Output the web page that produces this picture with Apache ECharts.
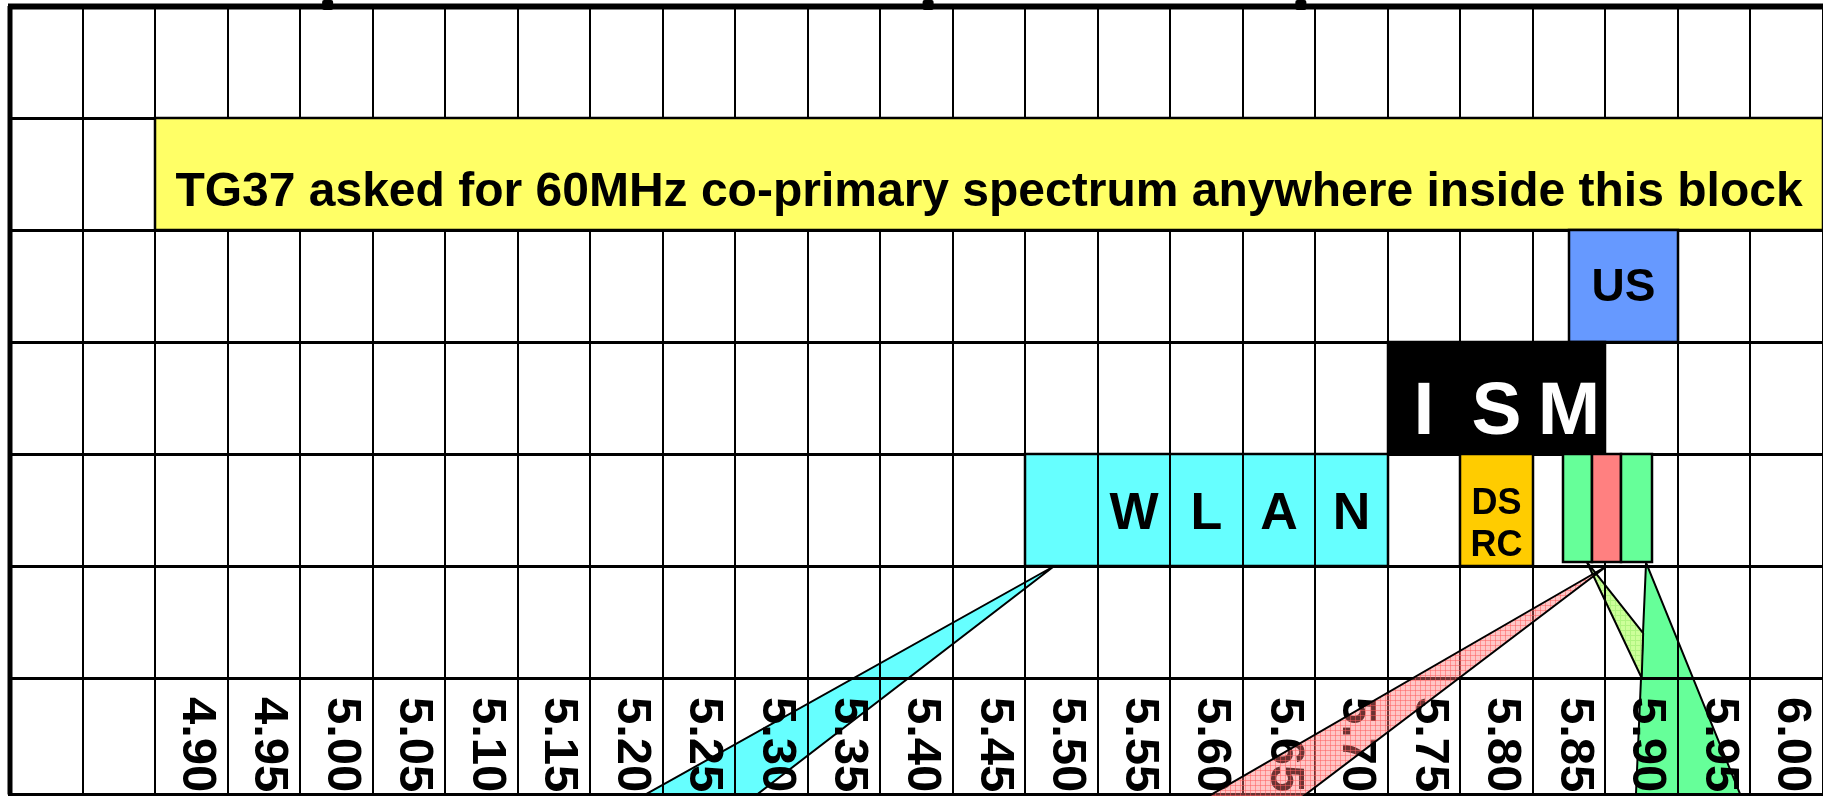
<!DOCTYPE html>
<html>
<head>
<meta charset="utf-8">
<title>5.9 GHz band plan</title>
<script src="https://cdn.jsdelivr.net/npm/echarts@6/dist/echarts.min.js"></script>
<style>
  html, body { margin: 0; padding: 0; background: #fff; }
  #chart { width: 1823px; height: 796px; }
</style>
</head>
<body>
<div id="chart"></div>
<script>
// columns: centre frequency in MHz, one column = 50 MHz
const colCentres = [4800, 4850, 4900, 4950, 5000, 5050, 5100, 5150, 5200, 5250, 5300, 5350,
  5400, 5450, 5500, 5550, 5600, 5650, 5700, 5750, 5800, 5850, 5900, 5950, 6000];
const tickLabels = ['', '', '4.90', '4.95', '5.00', '5.05', '5.10', '5.15', '5.20', '5.25', '5.30', '5.35',
  '5.40', '5.45', '5.50', '5.55', '5.60', '5.65', '5.70', '5.75', '5.80', '5.85', '5.90', '5.95', '6.00'];
const rowEdges = [0, 1, 2, 3, 4, 5, 6, 7.04];
const labelRow = 6;

// bands (MHz, row index counted from the top)
const bandNames = ['TG37 block', 'US', 'ISM', 'WLAN', 'DSRC', 'ITS a', 'ITS b', 'ITS c'];
const bandFrom = [4875, 5850, 5725, 5475, 5775, 5846, 5866, 5886];
const bandTo = [6025, 5925, 5875, 5725, 5825, 5866, 5886, 5907];
const bandRow = [1, 2, 3, 4, 4, 4, 4, 4];
const bandLabels = [
  'TG37 asked for 60MHz co-primary spectrum anywhere inside this block',
  'US',
  ['I', 'S', 'M'],
  ['', 'W', 'L', 'A', 'N'],
  'DS\nRC',
  '', '', ''
];

// zoom wedges: [apex, far-left, far-right] as MHz / row
const wedgeFreq = [
  [5495, 5191, 5274],
  [5903, 5895.5, 5973],
  [5862, 5901, 5900],
  [5876, 5582, 5652]
];
const wedgeRow = [
  [5, 7.2, 7.2],
  [4.97, 7.2, 7.2],
  [4.96, 5.6, 6],
  [5, 7.2, 7.2]
];

// stray marks above the top rule (MHz)
const topMarks = [4994, 5408, 5665];

const COL_W = 50;
const X_MIN = colCentres[0] - COL_W / 2;
const X_MAX = colCentres[colCentres.length - 1] + COL_W / 2;
const Y_MAX = rowEdges[rowEdges.length - 1];
const FONT = "'Liberation Sans', Arial, sans-serif";

// ---- styles ----
const bandStyle = [
  { fill: '#FFFF66', color: '#000', size: 48, dy: 19 },
  { fill: '#6699FF', color: '#000', size: 46, dy: 2 },
  { fill: '#000000', color: '#fff', size: 75, dy: 15 },
  { fill: '#66FFFF', color: '#000', size: 52, dy: 5 },
  { fill: '#FFCC00', color: '#000', size: 36, dy: 15, lh: 42 },
  { fill: '#66FF99', cut: 4 },
  { fill: '#FF8080', cut: 4 },
  { fill: '#66FF99', cut: 4 }
];

function hatch(base, line, step) {
  const c = document.createElement('canvas');
  c.width = step; c.height = step;
  const g = c.getContext('2d');
  g.fillStyle = base; g.fillRect(0, 0, step, step);
  g.fillStyle = line; g.fillRect(0, 0, step, 1); g.fillRect(0, 0, 1, step);
  return { image: c, repeat: 'repeat' };
}
const wedgeFill = [
  '#66FFFF',
  '#66FF99',
  hatch('#CCFF99', '#B0F480', 5),
  hatch('rgba(255,120,120,0.42)', 'rgba(255,90,90,0.5)', 5)
];
const wedgeZ = [1, 1, 1, 6];

const chart = echarts.init(document.getElementById('chart'));

function box(api, f0, f1, r0, r1) {
  const a = api.coord([f0, r0]);
  const b = api.coord([f1, r1]);
  const x0 = Math.round(a[0]), y0 = Math.round(a[1]);
  return { x: x0, y: y0, width: Math.round(b[0]) - x0, height: Math.round(b[1]) - y0 };
}

function wedgeSeries(i) {
  return {
    type: 'custom',
    name: 'wedge' + i,
    z: wedgeZ[i],
    clip: false,
    silent: true,
    data: [0],
    renderItem: (params, api) => ({
      type: 'polygon',
      shape: { points: wedgeFreq[i].map((f, k) => api.coord([f, wedgeRow[i][k]])) },
      style: { fill: wedgeFill[i], stroke: '#000', lineWidth: 2, lineJoin: 'round' }
    })
  };
}

const colEdges = colCentres.map(c => c - COL_W / 2).concat([X_MAX]);

const option = {
  animation: false,
  backgroundColor: '#fff',
  grid: { left: 10, top: 6, width: 1815, height: 112 * Y_MAX },
  xAxis: { type: 'value', min: X_MIN, max: X_MAX, show: false },
  yAxis: { type: 'value', min: 0, max: Y_MAX, inverse: true, show: false },
  series: [
    wedgeSeries(0), wedgeSeries(1), wedgeSeries(2),
    {
      // vertical rules
      type: 'custom', z: 2, silent: true, clip: false,
      data: colEdges,
      renderItem: (params, api) => {
        const f = api.value(0);
        const a = api.coord([f, 0]);
        const b = api.coord([f, Y_MAX]);
        const x = Math.round(a[0]);
        return {
          type: 'line',
          shape: { x1: x, y1: a[1], x2: x, y2: b[1] },
          style: { stroke: '#000', lineWidth: params.dataIndex === 0 ? 5 : 2 }
        };
      }
    },
    {
      // horizontal rules
      type: 'custom', z: 2, silent: true, clip: false,
      data: rowEdges,
      renderItem: (params, api) => {
        const r = api.value(0);
        const a = api.coord([X_MIN, r]);
        const b = api.coord([X_MAX, r]);
        const y = Math.round(a[1]) + 0.5;
        const w = params.dataIndex === 0 ? 6 : (params.dataIndex === rowEdges.length - 1 ? 3 : 3);
        return {
          type: 'line',
          shape: { x1: a[0] - 2, y1: y, x2: b[0], y2: y },
          style: { stroke: '#000', lineWidth: w }
        };
      }
    },
    {
      type: 'custom', z: 2, silent: true, clip: false,
      data: topMarks,
      renderItem: (params, api) => {
        const a = api.coord([api.value(0), 0]);
        return {
          type: 'rect',
          shape: { x: a[0] - 5.5, y: 0, width: 11, height: a[1] + 4, r: 2 },
          style: { fill: '#000' }
        };
      }
    },
    {
      // bands
      type: 'custom', z: 3, silent: true, clip: false,
      data: bandNames.map((n, i) => [bandFrom[i], bandTo[i], bandRow[i]]),
      renderItem: (params, api) => {
        const i = params.dataIndex;
        const st = bandStyle[i];
        const r = bandRow[i];
        const rc = box(api, bandFrom[i], bandTo[i], r, r + 1);
        if (st.cut) rc.height -= st.cut;
        const kids = [{
          type: 'rect', shape: rc,
          style: { fill: st.fill, stroke: '#000', lineWidth: 2.5 }
        }];
        const lab = bandLabels[i];
        const font = 'bold ' + (st.size || 40) + 'px ' + FONT;
        if (Array.isArray(lab)) {
          lab.forEach((ch, k) => {
            const f0 = bandFrom[i] + k * COL_W;
            const c = box(api, f0, f0 + COL_W, r, r + 1);
            kids.push({ type: 'rect', shape: c, style: { fill: 'none', stroke: '#000', lineWidth: 2 } });
            kids.push({
              type: 'text', x: c.x + c.width / 2, y: c.y + c.height / 2 + st.dy,
              style: { text: ch, fill: st.color, font: font, align: 'center', verticalAlign: 'middle' }
            });
          });
        } else if (lab) {
          kids.push({
            type: 'text', x: rc.x + rc.width / 2, y: rc.y + rc.height / 2 + st.dy,
            style: {
              text: lab, fill: st.color, font: font, align: 'center', verticalAlign: 'middle',
              lineHeight: st.lh || st.size
            }
          });
        }
        return { type: 'group', children: kids };
      }
    },
    {
      // frequency labels, read top to bottom
      type: 'custom', z: 4, silent: true, clip: false,
      data: colCentres,
      renderItem: (params, api) => {
        const a = api.coord([api.value(0), labelRow]);
        return {
          type: 'text', x: a[0] + 5, y: a[1] + 19, rotation: -Math.PI / 2,
          style: {
            text: tickLabels[params.dataIndex], fill: '#000',
            font: 'bold 49px ' + FONT, align: 'left', verticalAlign: 'middle'
          }
        };
      }
    },
    wedgeSeries(3)
  ]
};

chart.setOption(option);
</script>
</body>
</html>
